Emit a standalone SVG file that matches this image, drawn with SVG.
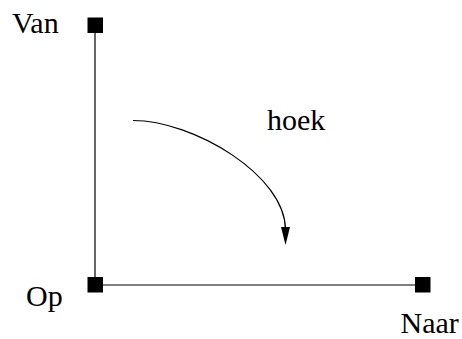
<svg xmlns="http://www.w3.org/2000/svg" width="462" height="339" viewBox="0 0 462 339">
<style>
.t{font-family:"Liberation Serif","Times New Roman",serif;font-size:30px;fill:#000}
.ln{stroke:#000;stroke-width:1.2;fill:none}
.pt{fill:#000}
</style>
<rect width="462" height="339" fill="#fff"/>
<g id="connectors">
<line class="ln" x1="95" y1="25" x2="95" y2="285"/>
<line class="ln" x1="95" y1="285" x2="423" y2="285"/>
<path class="ln" d="M133,120.5 C193,120.5 285.5,175 285.5,230"/>
<polygon class="pt" points="281,227 290,227 285.5,245"/>
</g>
<g id="van"><rect class="pt" x="87.5" y="17.5" width="15.5" height="15.5"/><text class="t" x="12" y="33">Van</text></g>
<g id="op"><rect class="pt" x="87.5" y="277" width="15.5" height="15.5"/><text class="t" x="26" y="306">Op</text></g>
<g id="naar"><rect class="pt" x="415" y="277" width="15.5" height="15.5"/><text class="t" x="400.5" y="333">Naar</text></g>
<g id="hoek"><text class="t" x="267" y="130">hoek</text></g>
</svg>
